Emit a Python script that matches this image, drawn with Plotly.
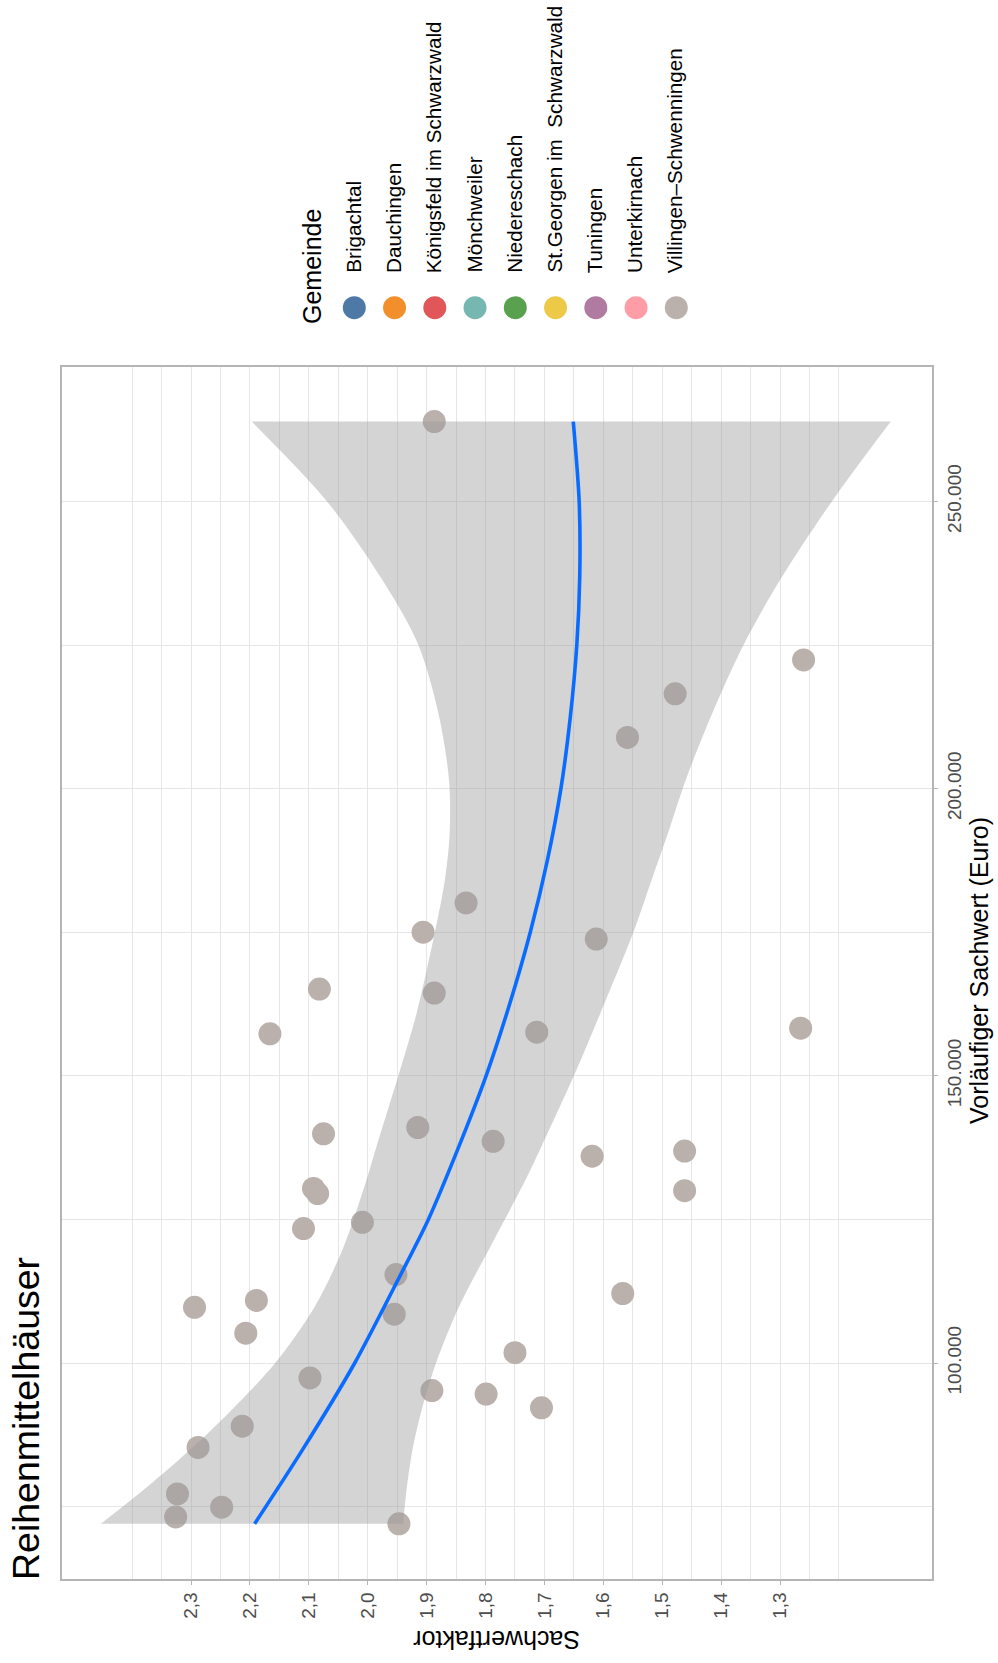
import plotly.graph_objects as go

W, H = 998, 1663
FONT = "Liberation Sans, Arial, Helvetica, sans-serif"

# ---------------- data ----------------
gemeinden = ["Brigachtal", "Dauchingen", "Königsfeld im Schwarzwald", "Mönchweiler",
             "Niedereschach", "St.Georgen im  Schwarzwald", "Tuningen", "Unterkirnach",
             "Villingen–Schwenningen"]
farben = ["#4E79A7", "#F28E2B", "#E15759", "#76B7B2", "#59A14F",
          "#EDC948", "#B07AA1", "#FF9DA7", "#BAB0AC"]

# all observations belong to Villingen-Schwenningen
sachwert = [263900, 222400, 216500, 208900, 180100, 175000, 164400, 165100, 157300,
            139900, 141000, 138600, 173800, 157600, 158300, 136000, 136900, 130400,
            129500, 123400, 124500, 115400, 108500, 109700, 110900, 105200, 97400,
            95200, 94600, 89000, 85300, 77200, 74900, 73200, 72000, 130000, 112100,
            101800, 92200]
faktor = [1.887, 1.260, 1.478, 1.559, 1.833, 1.906, 1.887, 2.082, 2.166,
          2.075, 1.915, 1.787, 1.612, 1.713, 1.265, 1.619, 1.462, 2.092,
          2.085, 2.109, 2.009, 1.952, 1.955, 2.294, 2.189, 2.207, 2.098,
          1.891, 1.799, 2.213, 2.288, 2.323, 2.248, 2.326, 1.947, 1.462, 1.567,
          1.750, 1.705]

# smoothing curve
glatt_wert = [72000, 85000, 100000, 115000, 125000, 137500, 150000, 162500, 175000,
              187500, 200000, 212500, 225000, 237000, 250000, 263900]
glatt_faktor = [2.192, 2.110, 2.022, 1.946, 1.897, 1.846, 1.799, 1.759, 1.724,
                1.695, 1.672, 1.656, 1.645, 1.640, 1.641, 1.651]

# confidence band
band_wert = [72000, 78800, 85400, 91200, 100000, 109800, 120200, 131900, 137700, 150000,
             160900, 175000, 184100, 192000, 201500, 213100, 225000, 236300, 250000, 263900]
band_oben = [2.453, 2.370, 2.296, 2.237, 2.157, 2.090, 2.041, 2.002, 1.985, 1.948,
             1.917, 1.886, 1.869, 1.861, 1.862, 1.880, 1.914, 1.975, 2.069, 2.197]
band_unten = [1.940, 1.933, 1.923, 1.910, 1.884, 1.845, 1.792, 1.732, 1.705, 1.650,
              1.605, 1.549, 1.518, 1.491, 1.460, 1.415, 1.362, 1.300, 1.212, 1.112]

faktor_ticks = [1.3, 1.4, 1.5, 1.6, 1.7, 1.8, 1.9, 2.0, 2.1, 2.2, 2.3]
faktor_labels = ["1,3", "1,4", "1,5", "1,6", "1,7", "1,8", "1,9", "2,0", "2,1", "2,2", "2,3"]
faktor_minor = [1.2, 1.25, 1.35, 1.45, 1.55, 1.65, 1.75, 1.85, 1.95, 2.05, 2.15, 2.25, 2.35, 2.4]
wert_ticks = [100000, 150000, 200000, 250000]
wert_labels = ["100.000", "150.000", "200.000", "250.000"]
wert_minor = [75000, 125000, 175000, 225000]

# ---------------- figure ----------------
def px(x):
    return x / W

def py(y):
    return 1 - y / H

fig = go.Figure()

fig.add_trace(go.Scatter(
    x=faktor, y=sachwert, mode="markers",
    marker=dict(size=23, color=farben[-1], line=dict(width=0)),
    name=gemeinden[-1], showlegend=False, hoverinfo="x+y"))

fig.add_trace(go.Scatter(
    x=band_unten, y=band_wert, mode="lines",
    line=dict(width=0, shape="spline", smoothing=0.9),
    showlegend=False, hoverinfo="skip"))
fig.add_trace(go.Scatter(
    x=band_oben, y=band_wert, mode="lines", fill="tonextx",
    fillcolor="rgba(153,153,153,0.42)",
    line=dict(width=0, shape="spline", smoothing=0.9),
    showlegend=False, hoverinfo="skip"))

fig.add_trace(go.Scatter(
    x=glatt_faktor, y=glatt_wert, mode="lines",
    line=dict(color="#0A6CFF", width=3.6, shape="spline", smoothing=0.8),
    showlegend=False, hoverinfo="skip"))

grid = "#E6E6E6"
axis_common = dict(showline=True, mirror=True, linecolor="#B5B5B5", linewidth=1.5,
                   ticks="outside", ticklen=4, tickwidth=1, tickcolor="#B5B5B5",
                   showgrid=True, gridcolor=grid, gridwidth=1, zeroline=False,
                   tickfont=dict(family=FONT, size=19, color="#4D4D4D"),
                   automargin=False, tickmode="array")

fig.update_layout(
    width=W, height=H,
    margin=dict(l=0, r=0, t=0, b=0, pad=0),
    paper_bgcolor="white", plot_bgcolor="white",
    showlegend=False,
    font=dict(family=FONT, color="black"),
    xaxis=dict(domain=[62 / W, 932 / W], range=[2.519, 1.042],
               tickvals=faktor_ticks, ticktext=faktor_labels, tickangle=-90,
               minor=dict(tickmode="array", tickvals=faktor_minor, showgrid=True,
                          gridcolor=grid, gridwidth=1, ticks=""),
               **axis_common),
    yaxis=dict(domain=[1 - 1579 / H, 1 - 367 / H], range=[62396, 273398], side="right",
               tickvals=wert_ticks, ticktext=wert_labels, tickangle=-90,
               minor=dict(tickmode="array", tickvals=wert_minor, showgrid=True,
                          gridcolor=grid, gridwidth=1, ticks=""),
               **axis_common),
)

ann = []
ann.append(dict(text="Reihenmittelhäuser", x=px(26), y=py(1419), textangle=-90,
                font=dict(size=37.5, family=FONT, color="black")))
ann.append(dict(text="Sachwertfaktor", x=px(497), y=py(1640), textangle=180,
                font=dict(size=25, family=FONT, color="black")))
ann.append(dict(text="Vorläufiger Sachwert (Euro)", x=px(979), y=py(971), textangle=-90,
                font=dict(size=25, family=FONT, color="black")))
ann.append(dict(text="Gemeinde", x=px(312), y=py(267), textangle=-90,
                font=dict(size=25, family=FONT, color="black")))

shapes = []
cx0, step, cy, r = 354.3, 40.25, 307.7, 11.5
for i, (g, c) in enumerate(zip(gemeinden, farben)):
    cx = cx0 + i * step
    shapes.append(dict(type="circle", xref="paper", yref="paper",
                       x0=px(cx - r), x1=px(cx + r), y0=py(cy + r), y1=py(cy - r),
                       fillcolor=c, line=dict(width=0)))
    ann.append(dict(text=g, x=px(cx - 1.5), y=py(275), textangle=-90, yanchor="bottom",
                    font=dict(size=20.7, family=FONT, color="black")))

for a in ann:
    a.setdefault("xref", "paper")
    a.setdefault("yref", "paper")
    a.setdefault("showarrow", False)
    a.setdefault("xanchor", "center")
    a.setdefault("yanchor", "middle")

fig.update_layout(annotations=ann, shapes=shapes)

fig.write_html("out.html")
